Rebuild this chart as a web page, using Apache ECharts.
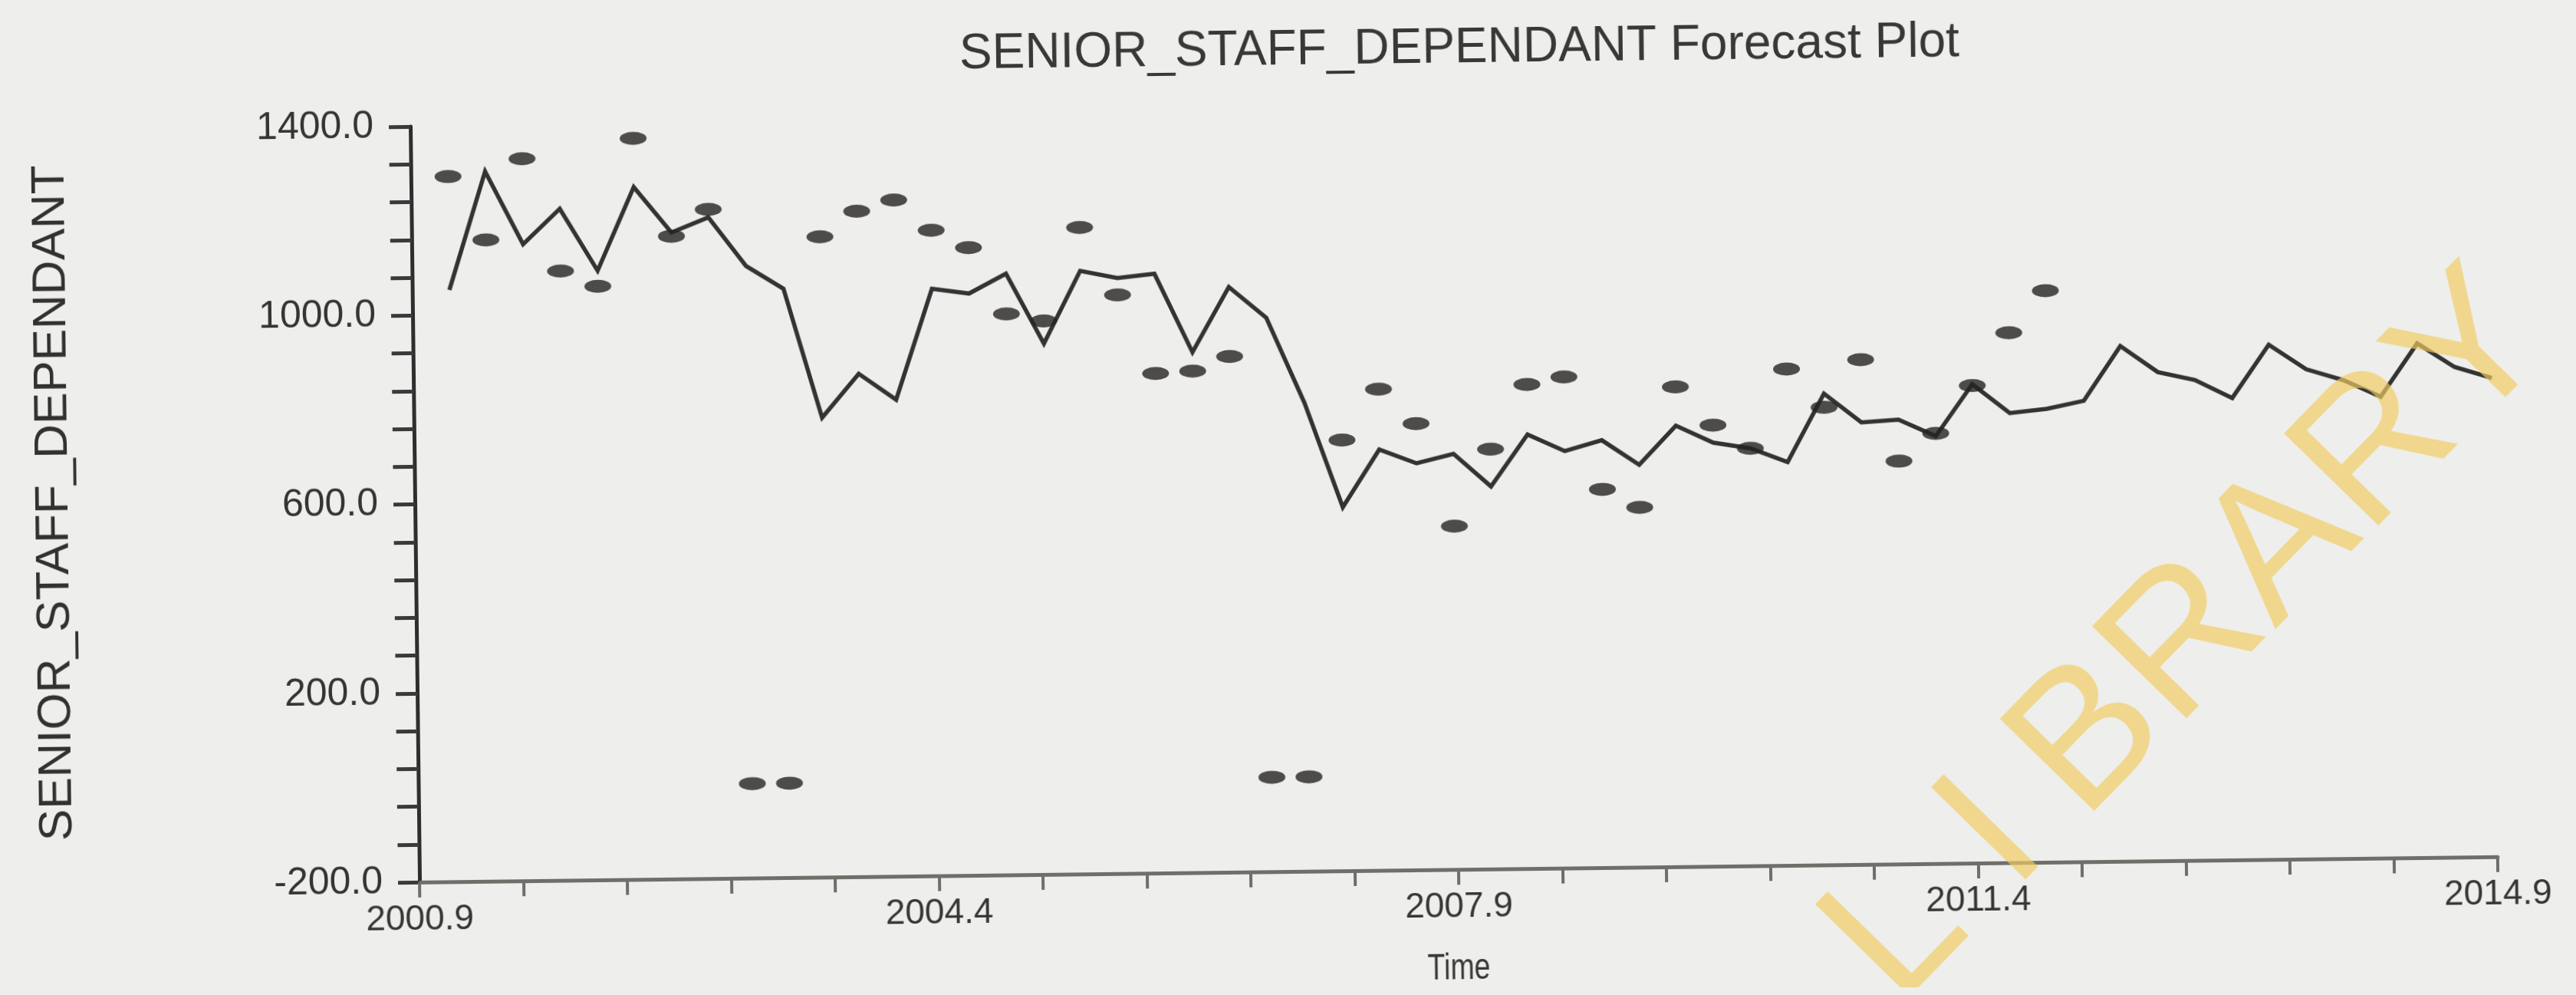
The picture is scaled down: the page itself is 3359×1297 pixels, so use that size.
<!DOCTYPE html>
<html>
<head>
<meta charset="utf-8">
<title>SENIOR_STAFF_DEPENDANT Forecast Plot</title>
<script src="https://cdn.jsdelivr.net/npm/echarts@6/dist/echarts.min.js"></script>
<style>
  html, body { margin: 0; padding: 0; width: 3359px; height: 1297px; overflow: hidden; background: #eeeeec; }
  /* the printed page sits slightly askew */
  #chart { width: 3359px; height: 1297px; transform: rotate(-0.7deg); transform-origin: 50% 50%; }
</style>
</head>
<body>
<div id="chart"></div>
<script>
// Quarterly series: fitted/forecast line and observed values
const axisStart = 2000.9;          // left end of the time axis
const firstQuarter = 2001.15;      // time stamp of the first observation
const quarterStep = 0.25;
const yFloor = -200;               // bottom of the value axis

const forecast = [
  1053, 1303, 1148, 1222, 1090, 1266, 1169, 1200, 1096, 1047,
  773, 865, 809, 1043, 1032, 1073, 924, 1077, 1061, 1069,
  902, 1039, 973, 792, 570, 691, 661, 680, 610, 719,
  683, 705, 652, 734, 697, 684, 654, 798, 736, 741,
  705, 814, 752, 760, 776, 891, 835, 817, 778, 890,
  837, 813, 777, 889, 838, 814
];

const actual = [
  1293, 1158, 1329, 1090, 1057, 1369, 1161, 1217, 0, 0,
  1156, 1209, 1232, 1167, 1129, 988, 972, 1169, 1025, 858,
  862, 892, 0, 0, 712, 819, 745, 527, 689, 825,
  840, 601, 562, 816, 734, 684, 851, 769, 869, 653,
  711, 811, 922, 1010
];

const xTickLabels = ['2000.9', '2004.4', '2007.9', '2011.4', '2014.9'];
const yTickLabels = ['-200.0', '200.0', '600.0', '1000.0', '1400.0'];

const titleText = 'SENIOR_STAFF_DEPENDANT Forecast Plot';
const yName = 'SENIOR_STAFF_DEPENDANT';
const xName = 'Time';
const stamp = 'LIBRARY';

const font = "'Liberation Sans', Arial, Helvetica, sans-serif";

const times = forecast.map((_, i) => firstQuarter + quarterStep * i);
const lineData = forecast.map((v, i) => [times[i] - axisStart, v - yFloor]);
const dotData = actual.map((v, i) => [times[i] - axisStart, v - yFloor]);

// library stamp, one letter at a time along a diagonal
const stampStart = [2468, 1225], stampEnd = [3228, 480];
const stampLetters = stamp.split('').map((ch, i, arr) => {
  const f = i / (arr.length - 1);
  return {
    type: 'text',
    x: stampStart[0] + (stampEnd[0] - stampStart[0]) * f,
    y: stampStart[1] + (stampEnd[1] - stampStart[1]) * f,
    rotation: Math.PI * 0.25,
    z: 100,
    silent: true,
    style: {
      text: ch, fontSize: 250, fontFamily: font, fontWeight: 'normal',
      fill: 'rgba(240,204,96,0.68)', align: 'center', verticalAlign: 'middle'
    }
  };
});

const chart = echarts.init(document.getElementById('chart'), null, { renderer: 'canvas' });

chart.setOption({
  animation: false,
  backgroundColor: 'transparent',
  grid: { left: 541, top: 151, width: 2710, height: 985, containLabel: false },
  xAxis: {
    type: 'value', min: 0, max: 14, interval: 3.5,
    axisLine: { show: true, onZero: false, lineStyle: { color: '#6f6e69', width: 5 } },
    axisTick: { show: true, length: 20, lineStyle: { color: '#6f6e69', width: 4 } },
    minorTick: { show: true, splitNumber: 5, length: 20, lineStyle: { color: '#6f6e69', width: 4 } },
    axisLabel: {
      formatter: v => xTickLabels[Math.round(v / 3.5)],
      fontSize: 46, color: '#383633', margin: 26, fontFamily: font
    },
    splitLine: { show: false }
  },
  yAxis: {
    type: 'value', min: 0, max: 1600, interval: 400,
    axisLine: { show: true, lineStyle: { color: '#2e2e2e', width: 5 } },
    axisTick: { show: true, length: 28, lineStyle: { color: '#3a3a3a', width: 5 } },
    minorTick: { show: true, splitNumber: 5, length: 28, lineStyle: { color: '#3a3a3a', width: 5 } },
    axisLabel: {
      formatter: v => yTickLabels[Math.round(v / 400)],
      fontSize: 50, color: '#363432', margin: 48, fontFamily: font
    },
    splitLine: { show: false }
  },
  series: [
    {
      name: 'Forecast', type: 'line', data: lineData,
      showSymbol: false, symbol: 'none',
      lineStyle: { color: '#333333', width: 5.5, join: 'miter' },
      z: 2
    },
    {
      name: 'Actual', type: 'scatter', data: dotData,
      symbol: 'circle', symbolSize: [35, 17],
      itemStyle: { color: '#262222' },
      z: 3
    }
  ],
  graphic: [
    {
      type: 'text', x: 1910, y: 66, z: 50,
      style: { text: titleText, fontSize: 64, fontFamily: font, fill: '#3a3836', align: 'center', verticalAlign: 'middle' }
    },
    {
      type: 'text', x: 71, y: 636, rotation: Math.PI / 2, z: 50,
      style: { text: yName, fontSize: 62, fontFamily: font, fill: '#33312f', align: 'center', verticalAlign: 'middle' }
    },
    {
      type: 'text', x: 1895, y: 1266, z: 50, scaleX: 0.78,
      style: { text: xName, fontSize: 48, fontFamily: font, fill: '#3a3836', align: 'center', verticalAlign: 'middle' }
    }
  ].concat(stampLetters)
});
</script>
</body>
</html>
